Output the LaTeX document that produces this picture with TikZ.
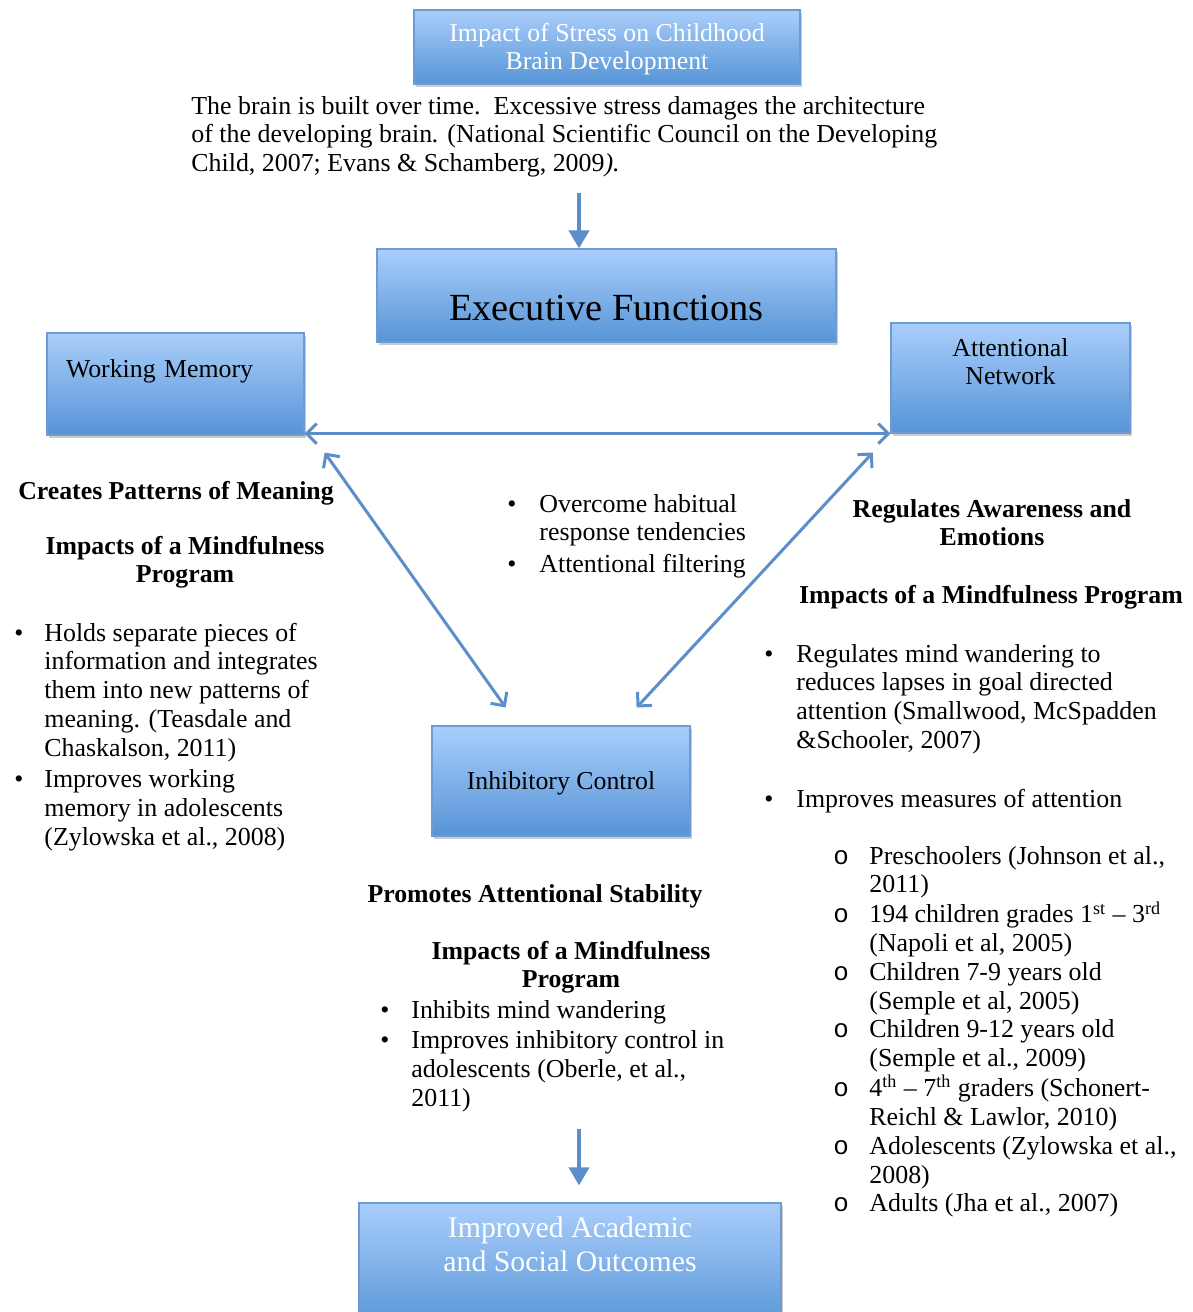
\documentclass[tikz,border=0pt]{standalone}
\usepackage{fontspec}
\setmainfont{Liberation Serif}
\newfontfamily\monofont{Liberation Mono}
\usetikzlibrary{positioning,arrows.meta,shadows,calc}
\definecolor{boxtop}{RGB}{170,206,251}
\definecolor{boxbot}{RGB}{86,148,214}
\definecolor{boxline}{RGB}{110,155,210}
\definecolor{arrowblue}{RGB}{92,142,201}
\tikzset{
  ebox/.style={draw=boxline, line width=0.6pt, top color=boxtop, bottom color=boxbot,
    drop shadow={shadow xshift=1.2pt, shadow yshift=-1.5pt, fill=black!45, opacity=0.45},
    inner sep=0pt, font=\fontsize{12.9}{14.4}\selectfont},
  txt/.style={inner sep=0pt, font=\fontsize{12.95}{14.4}\selectfont},
  hdr/.style={txt, font=\fontsize{12.9}{14.4}\selectfont\bfseries},
  varr/.style={draw=arrowblue, line width=2pt, -{Triangle[width=10pt,length=9pt]}},
  dbl/.style={draw=arrowblue, line width=1.5pt, {Straight Barb[width=10pt,length=5pt]}-{Straight Barb[width=10pt,length=5pt]}}
}
\begin{document}
\begin{tikzpicture}[x=0.5pt, y=-0.5pt]
\useasboundingbox (0,0) rectangle (1193,1312);
% Boxes
\node[ebox, text=white, minimum width=193pt, minimum height=37pt, text height=10pt, text depth=16pt] (stress) at (607,47)
  {\begin{tabular}[t]{@{}c@{}}Impact of Stress on Childhood\\Brain Development\end{tabular}};
\node[ebox, minimum width=229.5pt, minimum height=46.5pt, font=\fontsize{19.2}{22}\selectfont, text height=24.5pt, text depth=0pt] (exec) at (606.5,295.5) {Executive Functions};
\node[ebox, minimum width=128.5pt, minimum height=51pt, text width=109.5pt, align=left, text height=8.5pt, text depth=15.5pt] (wm) at (175.5,384) {Working Memory};
\node[ebox, minimum width=119.5pt, minimum height=55pt, text height=10pt, text depth=32pt] (an) at (1010.5,378)
  {\begin{tabular}[t]{@{}c@{}}Attentional\\Network\end{tabular}};
\node[ebox, minimum width=129pt, minimum height=55pt, text height=10pt, text depth=2pt] (ic) at (561,781) {Inhibitory Control};
\node[ebox, text=white, minimum width=211pt, minimum height=63.5pt, font=\fontsize{14.9}{17}\selectfont, text height=12pt, text depth=41.5pt] (outcome) at (570,1266.5)
  {\begin{tabular}[t]{@{}c@{}}Improved Academic\\and Social Outcomes\end{tabular}};

% Intro text
\node[txt, anchor=base west] (brain) at (191,114)
  {\begin{tabular}[t]{@{}l@{}}The brain is built over time.\ \ Excessive stress damages the architecture\\
  of the developing brain\textit{.} (National Scientific Council on the Developing\\
  Child, 2007; Evans \& Schamberg, 2009\textit{).}\end{tabular}};

% Arrows
\draw[varr] ($(exec.north)+(-27.5,-55)$) -- ([xshift=-13.75pt]exec.north);
\draw[dbl] (wm.south east |- an.south west) -- (an.south west);
\draw[dbl, shorten <=10.4pt, shorten >=11pt] ([xshift=4pt]wm.south east) -- ([xshift=43.5pt]ic.north west);
\draw[dbl, shorten <=12.9pt, shorten >=12.2pt] (an.south west) -- ([xshift=-35.3pt]ic.north east);
\draw[varr] ($(outcome.north)+(9,-73)$) -- ($(outcome.north)+(9,-17)$);

% Working memory column
\node[hdr, anchor=base] (wmhead) at (176,499) {Creates Patterns of Meaning};
\node[hdr, anchor=base] (wmimp) at (185,554) {\begin{tabular}[t]{@{}c@{}}Impacts of a Mindfulness\\Program\end{tabular}};
\node[txt, anchor=base west] (wmlist) at (14,641)
  {\begin{tabular}[t]{@{}p{15pt}@{}l@{}}
  \textbullet & Holds separate pieces of\\
  & information and integrates\\
  & them into new patterns of\\
  & meaning. (Teasdale and\\
  & Chaskalson, 2011)\\[1.2pt]
  \textbullet & Improves working\\
  & memory in adolescents\\
  & (Zylowska et al., 2008)
  \end{tabular}};

% Middle bullets
\node[txt, anchor=base west] (midlist) at (507,512)
  {\begin{tabular}[t]{@{}p{16pt}@{}l@{}}
  \textbullet & Overcome habitual\\
  & response tendencies\\[1.5pt]
  \textbullet & Attentional filtering
  \end{tabular}};

% Attentional network column
\node[hdr, anchor=base] (anhead) at (992,517) {\begin{tabular}[t]{@{}c@{}}Regulates Awareness and\\Emotions\end{tabular}};
\node[hdr, anchor=base] (animp) at (991,603) {Impacts of a Mindfulness Program};
\node[txt, anchor=base west] (anlist) at (764,662)
  {\begin{tabular}[t]{@{}p{16pt}@{}l@{}}
  \textbullet & Regulates mind wandering to\\
  & reduces lapses in goal directed\\
  & attention (Smallwood, McSpadden\\
  & \&Schooler, 2007)\\[15.1pt]
  \textbullet & Improves measures of attention
  \end{tabular}};
\node[txt, anchor=base west] (ansub) at (833,864)
  {\begin{tabular}[t]{@{}p{18pt}@{}l@{}}
  {\monofont o} & Preschoolers (Johnson et al.,\\
  & 2011)\\
  {\monofont o} & 194 children grades 1\textsuperscript{st} – 3\textsuperscript{rd}\\
  & (Napoli et al, 2005)\\
  {\monofont o} & Children 7-9 years old\\
  & (Semple et al, 2005)\\
  {\monofont o} & Children 9-12 years old\\
  & (Semple et al., 2009)\\
  {\monofont o} & 4\textsuperscript{th} – 7\textsuperscript{th} graders (Schonert-\\
  & Reichl \& Lawlor, 2010)\\
  {\monofont o} & Adolescents (Zylowska et al.,\\
  & 2008)\\
  {\monofont o} & Adults (Jha et al., 2007)
  \end{tabular}};

% Inhibitory control column
\node[hdr, anchor=base] (ichead) at (535,902) {Promotes Attentional Stability};
\node[hdr, anchor=base] (icimp) at (571,959) {\begin{tabular}[t]{@{}c@{}}Impacts of a Mindfulness\\Program\end{tabular}};
\node[txt, anchor=base west] (iclist) at (380,1018)
  {\begin{tabular}[t]{@{}p{15.5pt}@{}l@{}}
  \textbullet & Inhibits mind wandering\\[1pt]
  \textbullet & Improves inhibitory control in\\
  & adolescents (Oberle, et al.,\\
  & 2011)
  \end{tabular}};
\end{tikzpicture}
\end{document}
